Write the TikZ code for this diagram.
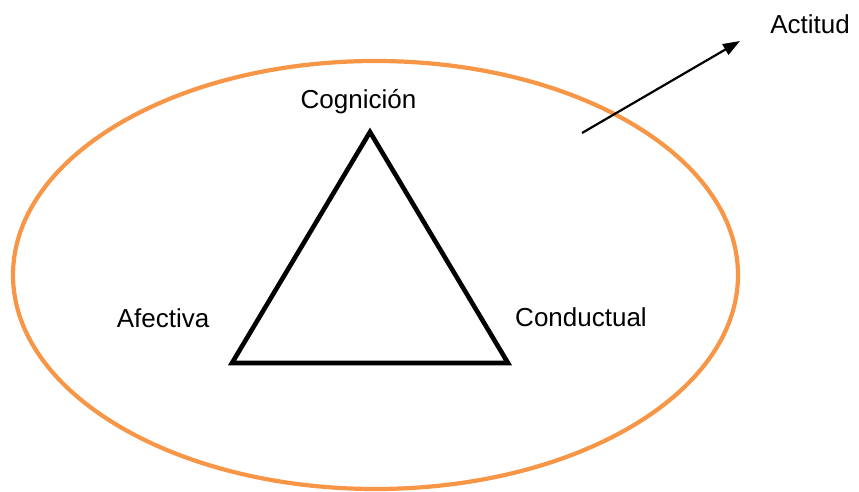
\documentclass[tikz,border=0pt]{standalone}
\usepackage{fontspec}
\setmainfont{Liberation Sans}
\usetikzlibrary{arrows.meta}
\begin{document}
\begin{tikzpicture}[x=1pt,y=1pt,
  lbl/.style={font=\fontsize{26}{30}\selectfont, inner sep=0pt, anchor=base},
  side/.style={line width=4.6pt, line join=miter, black},
  ring/.style={draw=orangeC, line width=4.2pt},
  pointer/.style={line width=2.2pt, -{Triangle[length=17pt,width=12pt]}}]
\definecolor{orangeC}{HTML}{F79646}
\useasboundingbox (0,0) rectangle (859,492);
\draw[ring] (375.5,217) ellipse [x radius=362.5, y radius=214];
\coordinate (top) at (370,360);
\coordinate (bl) at (232,129);
\coordinate (br) at (508,129);
\draw[side] (top) -- (bl) -- (br) -- cycle;
\coordinate (as) at (582,359);
\coordinate (ae) at (740,451);
\draw[pointer] (as) -- (ae);
\node[lbl] (cog) at (358.5,383) {Cognición};
\node[lbl] (afe) at (163,164) {Afectiva};
\node[lbl] (con) at (581,165) {Conductual};
\node[lbl] (act) at (810,458) {Actitud};
\end{tikzpicture}
\end{document}
